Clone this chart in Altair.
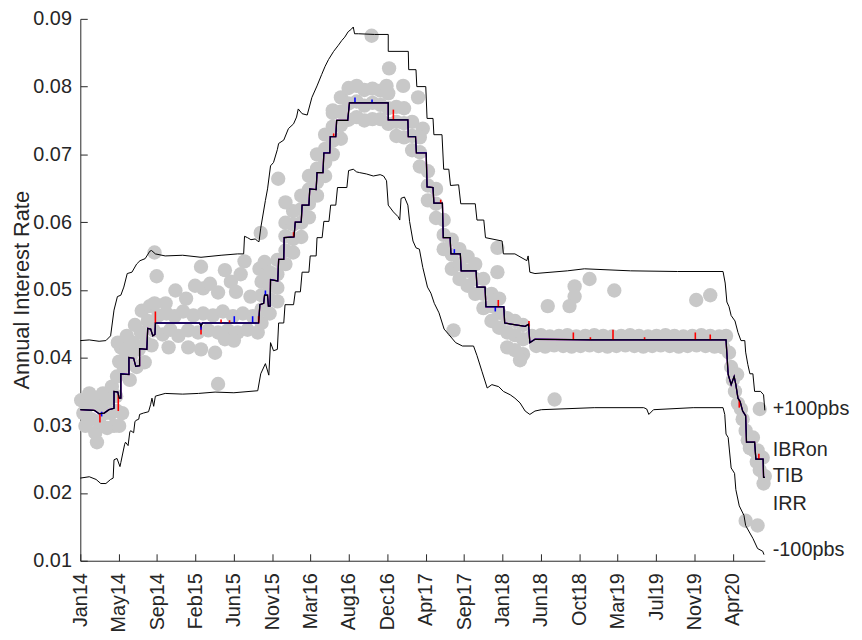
import altair as alt
import pandas as pd

# ---------------- axis definitions ----------------
tick_labels = ["Jan14", "May14", "Sep14", "Feb15", "Jun15", "Nov15", "Mar16", "Aug16",
               "Dec16", "Apr17", "Sep17", "Jan18", "Jun18", "Oct18", "Mar19", "Jul19",
               "Nov19", "Apr20"]
TICK_STEP = 90          # trading days between x ticks
tick_days = [i * TICK_STEP for i in range(len(tick_labels))]
y_ticks = [0.01, 0.02, 0.03, 0.04, 0.05, 0.06, 0.07, 0.08, 0.09]
END_DAY = 1605          # last trading day shown

# ---------------- data (day index, annual rate) ----------------
tib_path = [
    [0, .0323], [33, .0322], [44, .0317], [56, .0318], [67, .0323], [79, .0325],
    [79, .0350], [88, .0349], [91, .0340], [95, .0340],
    [95, .0376], [114, .0375],
    [114, .0400], [125, .0399], [130, .0387], [139, .0388],
    [139, .0413], [156, .0412],
    [158, .0443], [165, .0442], [170, .0432], [175, .0434],
    [176, .0451], [280, .0451], [283, .0446], [286, .0451], [418, .0451],
    [421, .0478], [430, .0480], [432, .0492], [439, .0492], [441, .0476], [445, .0476],
    [446, .0515], [463, .0513],
    [465, .0545], [477, .0545],
    [478, .0577], [501, .0578],
    [504, .0600], [518, .0600],
    [520, .0625], [536, .0625],
    [538, .0649], [553, .0648],
    [555, .0673], [569, .0673],
    [571, .0702], [585, .0702],
    [586, .0726], [599, .0726],
    [601, .0750], [627, .0750],
    [631, .0776], [722, .0776],
    [722, .0751], [768, .0751],
    [769, .0726], [786, .0726],
    [788, .0702], [811, .0702],
    [813, .0652], [827, .0651],
    [829, .0628], [849, .0628],
    [851, .0577], [867, .0577],
    [869, .0553], [891, .0553],
    [893, .0528], [928, .0528],
    [930, .0504], [949, .0504],
    [951, .0475], [993, .0475],
    [995, .0451], [1043, .0446], [1051, .0449],
    [1054, .0422], [1066, .0427], [1200, .0426], [1350, .0426], [1514, .0426],
    [1519, .0375], [1526, .0360], [1533, .0372], [1537, .0360], [1542, .0340],
    [1547, .0335], [1553, .0321], [1560, .0314],
    [1562, .0275], [1581, .0275],
    [1584, .0250], [1601, .0250],
    [1602, .0223], [1605, .0223],
]

# IBRon and IRR follow the TIB path; their visible departures (day, from, to)
ibr_spikes = [
    [46, .0317, .0304], [89, .0345, .0321], [176, .0451, .0468], [283, .0446, .0434],
    [330, .0451, .0456], [350, .0451, .0455], [418, .0451, .0461], [500, .0578, .0585],
    [594, .0726, .0731], [734, .0751, .0766], [845, .0628, .0633], [980, .0475, .0485],
    [1052, .0446, .0454], [1156, .0426, .0437], [1196, .0426, .0430], [1249, .0426, .0441],
    [1323, .0426, .0430], [1442, .0426, .0437], [1477, .0426, .0434], [1545, .0337, .0326],
    [1591, .0250, .0258],
]
irr_spikes = [
    [50, .0320, .0313], [283, .0451, .0441], [361, .0451, .0461], [404, .0451, .0461],
    [434, .0492, .0499], [644, .0776, .0784], [684, .0776, .0781], [877, .0553, .0560],
    [973, .0475, .0468],
]

upper_band = [
    [0, .0425], [21, .0426], [44, .0424], [60, .0425], [71, .0432], [79, .0470], [87, .0490],
    [95, .0492], [102, .0504], [110, .0524], [121, .0526], [132, .0538], [140, .0543],
    [152, .0546], [163, .0557], [167, .0558], [176, .0553], [199, .0550], [240, .0551],
    [283, .0548], [330, .0551], [369, .0553], [383, .0553], [385, .0579], [392, .0577],
    [400, .0574], [410, .0575], [416, .0572], [419, .0571], [423, .0591], [434, .0632],
    [439, .0649], [446, .0683], [453, .0688], [462, .0707], [465, .0716], [477, .0721],
    [488, .0738], [500, .0745], [507, .0755], [511, .0767], [520, .0760], [532, .0758],
    [543, .0784], [555, .0801], [566, .0818], [574, .0830], [582, .0840], [594, .0852],
    [605, .0861], [613, .0868], [620, .0873], [628, .0881], [636, .0885], [640, .0888],
    [643, .0878], [652, .0878], [690, .0877], [722, .0877], [722, .0852], [769, .0852],
    [770, .0825], [787, .0825], [789, .0800], [810, .0800], [813, .0753], [827, .0753],
    [829, .0729], [848, .0729], [852, .0678], [864, .0678], [868, .0654], [887, .0655],
    [892, .0627], [926, .0627], [930, .0603], [946, .0603], [950, .0577], [989, .0572],
    [992, .0553], [1019, .0553], [1047, .0543], [1050, .0550], [1054, .0526], [1066, .0524],
    [1142, .0528], [1182, .0531], [1290, .0528], [1400, .0527], [1507, .0527], [1512, .0510],
    [1516, .0482], [1521, .0475], [1526, .0462], [1535, .0454], [1542, .0437], [1549, .0425],
    [1558, .0425], [1560, .0408], [1565, .0390], [1570, .0376], [1577, .0376], [1581, .0350],
    [1595, .0350], [1602, .0345], [1605, .0322],
]

lower_band = [
    [0, .0222], [21, .0224], [37, .0220], [48, .0214], [60, .0214], [71, .0220], [77, .0222],
    [79, .0249], [86, .0251], [93, .0239], [95, .0245], [104, .0272], [106, .0275],
    [112, .0270], [116, .0290], [118, .0292], [125, .0289], [128, .0305], [130, .0307],
    [137, .0309], [139, .0316], [148, .0318], [160, .0320], [165, .0331], [168, .0340],
    [172, .0328], [176, .0343], [199, .0347], [240, .0346], [277, .0347], [316, .0349],
    [360, .0348], [416, .0351], [423, .0376], [434, .0391], [442, .0374], [446, .0422],
    [453, .0410], [462, .0412], [465, .0451], [477, .0451], [480, .0478], [500, .0478],
    [504, .0497], [516, .0497], [520, .0526], [536, .0526], [539, .0550], [553, .0550],
    [555, .0577], [567, .0577], [571, .0601], [583, .0601], [587, .0625], [599, .0625],
    [603, .0651], [625, .0651], [629, .0676], [640, .0678], [648, .0674], [655, .0673],
    [671, .0671], [687, .0668], [703, .0670], [711, .0668], [718, .0661], [722, .0625],
    [734, .0615], [745, .0608], [749, .0603], [752, .0635], [760, .0637], [768, .0625],
    [772, .0601], [780, .0572], [787, .0562], [795, .0560], [803, .0533], [814, .0504],
    [822, .0495], [830, .0480], [841, .0466], [853, .0442], [864, .0434], [880, .0422],
    [896, .0417], [922, .0417], [930, .0403], [942, .0379], [954, .0355], [965, .0360],
    [981, .0357], [992, .0350], [1008, .0345], [1019, .0340], [1031, .0333], [1043, .0321],
    [1054, .0316], [1066, .0321], [1081, .0323], [1205, .0326], [1321, .0326], [1328, .0324],
    [1333, .0316], [1344, .0323], [1437, .0326], [1507, .0326], [1511, .0316], [1514, .0287],
    [1519, .0282], [1526, .0237], [1534, .0229], [1537, .0205], [1545, .0181], [1556, .0167],
    [1560, .0152], [1577, .0133], [1588, .0118], [1600, .0114], [1603, .0109],
]

survey_dots = [
    # early 2014
    [2, .0337], [7, .0318], [12, .0299], [16, .0328], [21, .0347], [26, .0309], [33, .0335],
    [35, .0289], [39, .0275], [44, .0306], [49, .0328], [53, .0347], [58, .0318], [63, .0296],
    [67, .0338], [72, .0318], [79, .0299], [86, .0321], [91, .0299], [98, .0318], [74, .0357],
    [84, .0343],
    # 2014 hikes
    [86, .0372], [91, .0394], [95, .0415], [88, .0422], [102, .0386], [107, .0408], [109, .0432],
    [116, .0367], [118, .0400], [123, .0422], [128, .0448], [132, .0386], [137, .0412],
    [142, .0437], [144, .0469], [151, .0393], [153, .0422], [158, .0454], [163, .0476],
    [167, .0418], [172, .0440], [174, .0480],
    # 2014-2015 plateau
    [183, .0462], [193, .0434], [202, .0465], [211, .0441], [221, .0461], [230, .0432],
    [241, .0468], [253, .0440], [265, .0462], [276, .0437], [288, .0465], [300, .0440],
    [311, .0462], [323, .0437], [334, .0468], [346, .0440], [358, .0461], [369, .0437],
    [381, .0465], [392, .0441], [404, .0461], [416, .0437],
    [174, .0555], [179, .0520], [200, .0480], [223, .0499], [248, .0487], [269, .0506],
    [288, .0502], [304, .0509], [283, .0534], [323, .0496], [339, .0529], [353, .0512],
    [365, .0497], [385, .0542], [399, .0490], [420, .0531], [432, .0541], [376, .0523],
    [253, .0415], [283, .0412], [316, .0407], [339, .0427], [323, .0361], [360, .0425],
    [207, .0415],
    # 2015-2016 hikes
    [425, .0512], [425, .0492], [425, .0471], [425, .0451],
    [444, .0526], [444, .0506], [444, .0486], [444, .0465],
    [462, .0544], [462, .0523], [462, .0503], [462, .0483],
    [481, .0599], [481, .0579], [481, .0558], [481, .0538],
    [499, .0616], [499, .0596], [499, .0575], [499, .0555],
    [518, .0639], [518, .0619], [518, .0599], [518, .0578],
    [536, .0668], [536, .0648], [536, .0627], [536, .0607],
    [555, .0700], [555, .0679], [555, .0659], [555, .0639],
    [574, .0729], [574, .0708], [574, .0688], [574, .0668],
    [592, .0761], [592, .0741], [592, .0720], [592, .0700],
    [611, .0784], [611, .0763], [611, .0743], [611, .0723],
    [423, .0584], [464, .0664], [481, .0629], [592, .0765],
    # 2016 peak
    [629, .0798], [629, .0775], [629, .0751], [648, .0801], [648, .0778], [648, .0755],
    [666, .0795], [666, .0772], [666, .0750], [685, .0797], [685, .0776], [685, .0752],
    [704, .0794], [704, .0773], [704, .0752], [722, .0790], [722, .0768], [722, .0745],
    [683, .0875], [724, .0827], [718, .0801], [757, .0801], [792, .0784], [803, .0738],
    # 2017 cuts
    [741, .0770], [741, .0748], [741, .0727], [759, .0768], [759, .0746], [759, .0725],
    [778, .0748], [778, .0727], [778, .0706], [796, .0725], [796, .0703], [796, .0682],
    [815, .0675], [815, .0654], [815, .0632], [834, .0649], [834, .0627], [834, .0606],
    [852, .0603], [852, .0581], [852, .0560], [871, .0574], [871, .0552], [871, .0531],
    [889, .0560], [889, .0538], [889, .0516], [908, .0549], [908, .0528], [908, .0506],
    [926, .0538], [926, .0516], [926, .0494], [945, .0516], [945, .0494], [945, .0473],
    [964, .0494], [964, .0476], [964, .0454], [982, .0487], [982, .0466], [982, .0444],
    [1001, .0458], [1001, .0437], [1001, .0415], [1019, .0454], [1019, .0433], [1019, .0411],
    [1038, .0448], [1038, .0427], [1038, .0405],
    [978, .0526], [978, .0562], [875, .0440], [1031, .0396],
    # 2018-2020 plateau
    [1059, .0432], [1080, .0433], [1101, .0431], [1122, .0432], [1142, .0433], [1163, .0431],
    [1184, .0432], [1205, .0433], [1226, .0432], [1247, .0431], [1268, .0432], [1289, .0433],
    [1310, .0432], [1331, .0431], [1351, .0432], [1372, .0433], [1393, .0432], [1414, .0431],
    [1435, .0432], [1456, .0433], [1477, .0432], [1498, .0431], [1514, .0432],
    [1069, .0417], [1090, .0416], [1111, .0418], [1132, .0417], [1152, .0416], [1173, .0417],
    [1194, .0418], [1215, .0417], [1236, .0416], [1257, .0417], [1278, .0418], [1299, .0417],
    [1320, .0416], [1341, .0417], [1361, .0418], [1382, .0417], [1403, .0416], [1424, .0417],
    [1445, .0418], [1466, .0417], [1487, .0416], [1505, .0417],
    [1159, .0505], [1159, .0490], [1194, .0516], [1252, .0499], [1096, .0476], [1147, .0476],
    [1444, .0485], [1477, .0492], [1112, .0338],
    # 2020 cuts
    [1507, .0415], [1521, .0407], [1526, .0386], [1530, .0367], [1540, .0375], [1535, .0350],
    [1542, .0332], [1549, .0324], [1553, .0309], [1560, .0292], [1565, .0278], [1570, .0266],
    [1577, .0282], [1581, .0262], [1588, .0263], [1586, .0246], [1593, .0234], [1600, .0252],
    [1605, .0225], [1602, .0214], [1593, .0324], [1560, .0159], [1588, .0152],
]

end_labels = ["+100pbs", "IBRon", "TIB", "IRR", "-100pbs"]
end_label_y = [0.0324, 0.0263, 0.0225, 0.0184, 0.0116]

# ---------------- frames ----------------
def path_df(pts):
    return pd.DataFrame({"day": [p[0] for p in pts], "rate": [p[1] for p in pts],
                         "i": list(range(len(pts)))})

def spike_df(pts):
    return pd.DataFrame({"day": [p[0] for p in pts], "lo": [p[1] for p in pts],
                         "hi": [p[2] for p in pts]})

dots_df = pd.DataFrame({"day": [p[0] for p in survey_dots], "rate": [p[1] for p in survey_dots]})
labels_df = pd.DataFrame({"day": [END_DAY] * len(end_labels), "rate": end_label_y,
                          "label": end_labels})

# ---------------- styling ----------------
W, H = 691, 547
FONT = "Liberation Sans"
INK = "#262626"
xs = alt.Scale(domain=[0, END_DAY], nice=False, zero=False)
ys = alt.Scale(domain=[0.01, 0.09], nice=False, zero=False)
label_expr = "[" + ",".join("'%s'" % l for l in tick_labels) + "][round(datum.value/%d)]" % TICK_STEP

x_main = alt.Axis(values=tick_days, labelExpr=label_expr, labelAngle=-90, labelPadding=12,
                  ticks=False, domainColor=INK, domainWidth=1, labelFont=FONT, labelFontSize=20,
                  labelColor=INK, grid=False, title=None, labelOverlap=False)
y_main = alt.Axis(values=y_ticks, format=".2f", ticks=False, labelPadding=9, domainColor=INK,
                  domainWidth=1, labelFont=FONT, labelFontSize=20, labelColor=INK, grid=False,
                  title="Annual Interest Rate", titleFont=FONT, titleFontSize=22,
                  titleFontWeight="normal", titleColor=INK, titleAngle=270,
                  titleX=-59, titleY=H / 2, titleAlign="center", titleBaseline="middle")
x_ticks = alt.Axis(orient="top", offset=-H, values=tick_days, labels=False, domain=False,
                   tickSize=7, tickColor=INK, grid=False, title=None)
y_ticks_ax = alt.Axis(orient="right", offset=-W, values=y_ticks, labels=False, domain=False,
                      tickSize=7, tickColor=INK, grid=False, title=None)

def X(axis=None):
    return alt.X("day:Q", scale=xs, axis=axis)

def Y(field="rate", axis=None):
    return alt.Y(field + ":Q", scale=ys, axis=axis)

dots = alt.Chart(dots_df).mark_circle(size=210, color="#c8c8c8", opacity=1).encode(
    x=X(x_main), y=Y(axis=y_main))

upper = alt.Chart(path_df(upper_band)).mark_line(color="black", strokeWidth=1).encode(
    x=X(x_ticks), y=Y(axis=y_ticks_ax), order="i:Q")
lower = alt.Chart(path_df(lower_band)).mark_line(color="black", strokeWidth=1).encode(
    x=X(), y=Y(), order="i:Q")

ibr_line = alt.Chart(path_df(tib_path)).mark_line(color="red", strokeWidth=1.3).encode(
    x=X(), y=Y(), order="i:Q")
irr_line = alt.Chart(path_df(tib_path)).mark_line(color="blue", strokeWidth=1.3).encode(
    x=X(), y=Y(), order="i:Q")
ibr_sp = alt.Chart(spike_df(ibr_spikes)).mark_rule(color="red", strokeWidth=1.6).encode(
    x=X(), y=Y("lo"), y2="hi:Q")
irr_sp = alt.Chart(spike_df(irr_spikes)).mark_rule(color="blue", strokeWidth=1.6).encode(
    x=X(), y=Y("lo"), y2="hi:Q")
tib_line = alt.Chart(path_df(tib_path)).mark_line(color="black", strokeWidth=1.2).encode(
    x=X(), y=Y(), order="i:Q")

texts = alt.Chart(labels_df).mark_text(align="left", baseline="middle", dx=8, font=FONT,
                                       fontSize=20, color=INK).encode(
    x=X(), y=Y(), text="label:N")

chart = alt.layer(dots, upper, lower, ibr_line, irr_line, ibr_sp, irr_sp, tib_line, texts).resolve_axis(
    x="independent", y="independent"
).properties(
    width=W, height=H,
    autosize=alt.AutoSizeParams(type="none"),
    padding={"left": 73, "top": 8, "right": 90, "bottom": 72},
).configure_view(stroke=None)

chart.save("out.html", embed_options={"renderer": "svg", "actions": False})
